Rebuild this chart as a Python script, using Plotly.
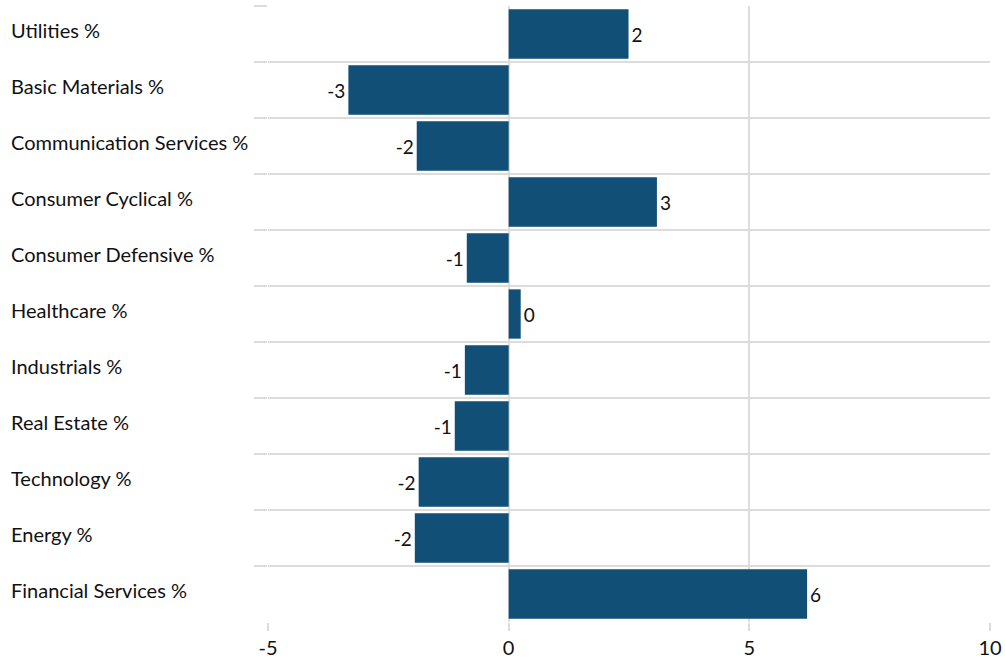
import plotly.graph_objects as go

categories = ["Utilities %", "Basic Materials %", "Communication Services %",
              "Consumer Cyclical %", "Consumer Defensive %", "Healthcare %",
              "Industrials %", "Real Estate %", "Technology %", "Energy %",
              "Financial Services %"]
values = [2.49, -3.33, -1.91, 3.08, -0.87, 0.25, -0.91, -1.12, -1.87, -1.95, 6.2]
x_ticks = [-5, 0, 5, 10]
x_tick_labels = ["-5", "0", "5", "10"]

GRID = "#dcdcdc"
BAR = "#114f77"
FONT = "Lato, 'Open Sans', sans-serif"

fig = go.Figure(go.Bar(
    y=categories, x=values, orientation="h",
    marker=dict(color=BAR, line=dict(width=0)),
    texttemplate="%{x:.0f}", textposition="outside",
    textfont=dict(size=19, color="#111", family=FONT),
    cliponaxis=False,
))

for c in categories:
    fig.add_annotation(x=0, xref="paper", xshift=-259, y=c, yref="y",
                       text=c, showarrow=False, xanchor="left", yanchor="middle",
                       yshift=4, font=dict(size=20, color="#111", family=FONT))

fig.update_layout(
    width=1005, height=660,
    margin=dict(l=268, r=15, t=6, b=38, autoexpand=False),
    plot_bgcolor="white", paper_bgcolor="white",
    bargap=0.12, showlegend=False,
    font=dict(family=FONT, size=20, color="#111"),
    xaxis=dict(range=[-5, 10], tickvals=x_ticks, ticktext=x_tick_labels,
               automargin=False,
               showgrid=True, gridcolor=GRID,
               gridwidth=2, zeroline=False, ticks="outside", ticklen=8,
               tickcolor=GRID, tickwidth=2, showline=False,
               tickfont=dict(size=20, color="#111", family=FONT)),
    yaxis=dict(type="category", autorange="reversed", tickson="boundaries",
               automargin=False,
               showgrid=True, gridcolor=GRID, gridwidth=2, ticks="outside",
               ticklen=13, tickcolor=GRID, tickwidth=2, showticklabels=False,
               zeroline=False, showline=False),
)

css_js = (
    "var s=document.createElement('style');"
    "s.textContent='html,body{margin:0;padding:0;overflow:hidden;width:1005px;height:660px;}"
    ".plotly-graph-div{display:block;}';"
    "document.head.appendChild(s);"
)
fig.write_html("out.html", config={"displayModeBar": False}, post_script=css_js)
